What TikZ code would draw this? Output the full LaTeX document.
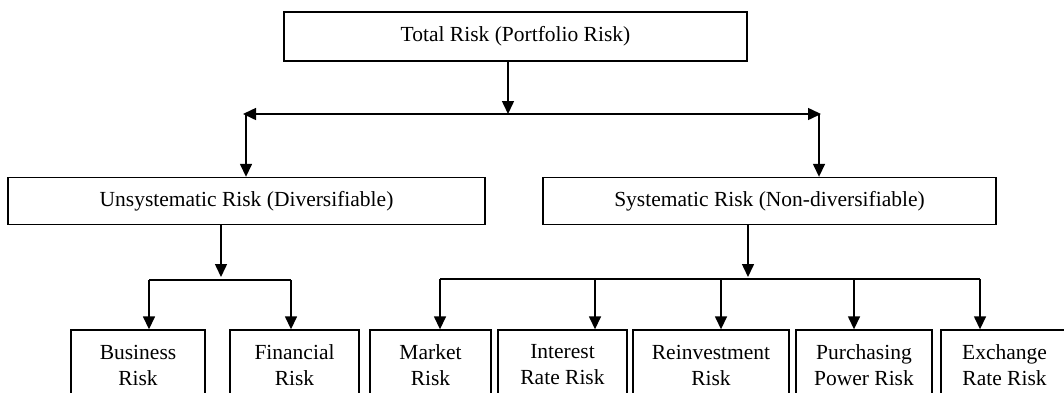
\documentclass[tikz,border=0pt]{standalone}
\usepackage{fontspec}
\setmainfont{Liberation Serif}
\usepackage{tikz}
\usetikzlibrary{positioning,calc,arrows.meta}

\begin{document}
\begin{tikzpicture}[x=1pt,y=-1pt,
            every node/.style={rectangle,draw,line width=1.4pt,inner sep=0pt,align=center,
                font=\fontsize{21.5}{26}\selectfont},
            bigbox/.style={minimum height=47pt},
            smallbox/.style={minimum height=70pt},
            arrowedge/.style={line width=1.5pt,-{Triangle[width=12pt,length=13pt]}},
            twoedge/.style={line width=1.5pt,{Triangle[width=12pt,length=13pt]}-{Triangle[width=12pt,length=13pt]}},
            plainedge/.style={line width=1.5pt}
        ]
            \useasboundingbox (0,0) rectangle (1064,392);
            \clip (0,0) rectangle (1064,392);
            \node[bigbox, minimum width=463pt, minimum height=49pt] (tot) at (515.5,36.5) {Total Risk (Portfolio Risk)};
            \node[bigbox, minimum width=477pt] (uns) at (246.5,201) {Unsystematic Risk (Diversifiable)};
            \node[bigbox, minimum width=453pt] (sys) at (769.5,201) {Systematic Risk (Non-diversifiable)};
            \node[smallbox, minimum width=134pt] (bus) at (138,365) {Business\\Risk};
            \node[smallbox, minimum width=129pt] (fin) at (294.5,365) {Financial\\Risk};
            \node[smallbox, minimum width=121pt] (mkt) at (430.5,365) {Market\\Risk};
            \node[smallbox, minimum width=129pt] (ir) at (562.5,365) {Interest\\Rate Risk};
            \node[smallbox, minimum width=156pt] (rei) at (711,365) {Reinvestment\\Risk};
            \node[smallbox, minimum width=136pt] (pp) at (864,365) {Purchasing\\Power Risk};
            \node[smallbox, minimum width=127pt] (er) at (1004.5,365) {Exchange\\Rate Risk};
            % joints of the connectors
            \coordinate (tj) at (508,114);
            \coordinate (tl) at (246,114);
            \coordinate (tr) at (819,114);
            \coordinate (uj) at (221,280);
            \coordinate (ul) at (149,280);
            \coordinate (ur) at (291,280);
            \coordinate (sj) at (748,279);
            \coordinate (s1) at (440,279);
            \coordinate (s2) at (595,279);
            \coordinate (s3) at (721,279);
            \coordinate (s4) at (854,279);
            \coordinate (s5) at (980,279);
            % top level
            \draw[arrowedge] (tj |- tot.south) -- (tj);
            \draw[twoedge] ($(tl)+(-3,0)$) -- ($(tr)+(2,0)$);
            \draw[arrowedge] (tl) -- (tl |- uns.north);
            \draw[arrowedge] (tr) -- (tr |- sys.north);
            % unsystematic
            \draw[arrowedge] (uj |- uns.south) -- ($(uj)+(0,-3)$);
            \draw[plainedge] (ul) -- (ur);
            \draw[arrowedge] (ul) -- (ul |- bus.north);
            \draw[arrowedge] (ur) -- (ur |- fin.north);
            % systematic
            \draw[arrowedge] (sj |- sys.south) -- ($(sj)+(0,-2)$);
            \draw[plainedge] (s1) -- (s5);
            \draw[arrowedge] (s1) -- (s1 |- mkt.north);
            \draw[arrowedge] (s2) -- (s2 |- ir.north);
            \draw[arrowedge] (s3) -- (s3 |- rei.north);
            \draw[arrowedge] (s4) -- (s4 |- pp.north);
            \draw[arrowedge] (s5) -- (s5 |- er.north);
        \end{tikzpicture}
\end{document}
